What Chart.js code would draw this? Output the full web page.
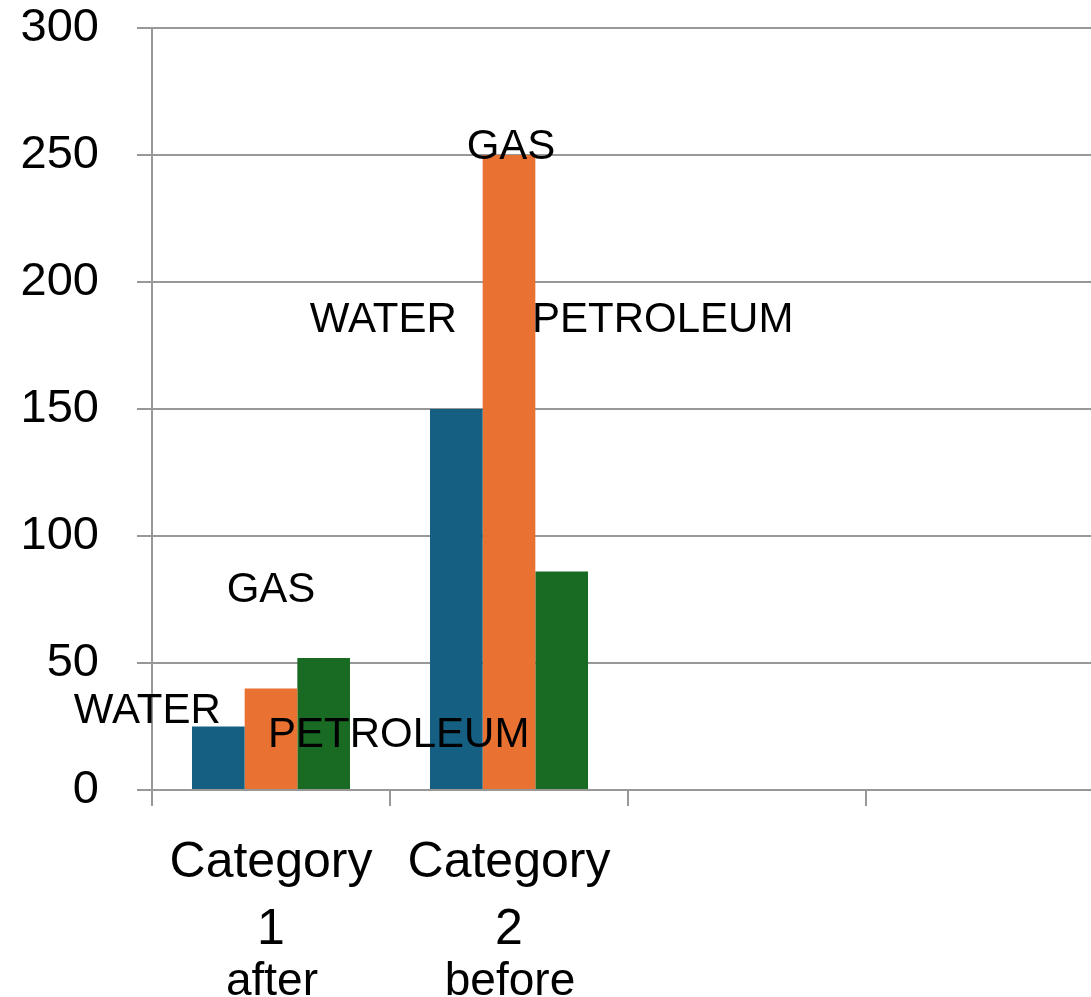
<!DOCTYPE html>
<html>
<head>
<meta charset="utf-8">
<script src="https://cdn.jsdelivr.net/npm/chart.js@4/dist/chart.umd.min.js"></script>
<style>
  html, body { margin: 0; padding: 0; background: #ffffff; overflow: hidden; }
  #wrap { width: 1091px; height: 997px; overflow: hidden; }
  canvas { display: block; }
</style>
</head>
<body>
<div id="wrap"><canvas id="chart" width="1120" height="997"></canvas></div>
<script>
// Categories along the x axis (two empty slots keep the plot width)
const categories = ['Category 1', 'Category 2', '', ''];
const subLabels = ['after', 'before', '', ''];

// Series
const seriesNames = ['WATER', 'GAS', 'PETROLEUM'];
const waterValues = [25, 150, null, null];
const gasValues = [40, 250, null, null];
const petroleumValues = [52, 86, null, null];

// Value axis
const yMin = 0;
const yMax = 300;
const yStep = 50;

const seriesColors = ['#156082', '#E97132', '#196B24'];

// Where each series name sits, relative to the top-centre of its bar [dx, dy]
const labelOffsets = {
  WATER:     [[-71, -19], [-73, -92]],
  GAS:       [[0, -101], [2, -11]],
  PETROLEUM: [[75, 74], [101, -255]]
};

const FONT = '"Liberation Sans", Arial, sans-serif';
const GRID = '#989898';

// Draws the series name near each bar
const seriesNamePlugin = {
  id: 'seriesNames',
  afterDatasetsDraw(chart) {
    const ctx = chart.ctx;
    ctx.save();
    ctx.font = '42px ' + FONT;
    ctx.fillStyle = '#000000';
    ctx.textAlign = 'center';
    ctx.textBaseline = 'alphabetic';
    chart.data.datasets.forEach((ds, di) => {
      const meta = chart.getDatasetMeta(di);
      const offs = labelOffsets[ds.label] || [];
      meta.data.forEach((bar, i) => {
        if (ds.data[i] == null || !offs[i]) return;
        const [dx, dy] = offs[i];
        // dy locates the middle of the capitals; shift to the baseline
        ctx.fillText(ds.label, bar.x + dx, bar.y + dy + 15);
      });
    });
    ctx.restore();
  }
};

// Second-level category text under the tick labels
const subLabelPlugin = {
  id: 'subLabels',
  afterDraw(chart) {
    const ctx = chart.ctx;
    const xs = chart.scales.x;
    ctx.save();
    ctx.font = '46px ' + FONT;
    ctx.fillStyle = '#000000';
    ctx.textAlign = 'center';
    ctx.textBaseline = 'alphabetic';
    subLabels.forEach((t, i) => {
      if (!t) return;
      ctx.fillText(t, xs.getPixelForValue(i) + 1, chart.chartArea.bottom + 205);
    });
    ctx.restore();
  }
};

new Chart(document.getElementById('chart'), {
  type: 'bar',
  data: {
    labels: categories.map(c => c ? c.split(' ') : ''),
    datasets: [
      { label: seriesNames[0], data: waterValues, backgroundColor: seriesColors[0] },
      { label: seriesNames[1], data: gasValues, backgroundColor: seriesColors[1] },
      { label: seriesNames[2], data: petroleumValues, backgroundColor: seriesColors[2] }
    ]
  },
  options: {
    responsive: false,
    animation: false,
    devicePixelRatio: 1,
    layout: { padding: { top: 28, right: 16, left: 0, bottom: 0 } },
    datasets: {
      bar: { categoryPercentage: 0.664, barPercentage: 1.0, borderWidth: 0 }
    },
    plugins: {
      legend: { display: false },
      tooltip: { enabled: false }
    },
    scales: {
      x: {
        grid: {
          display: true,
          drawOnChartArea: false,
          drawTicks: true,
          tickLength: 16,
          color: GRID,
          lineWidth: 2
        },
        border: { display: false },
        ticks: {
          color: '#000000',
          font: { family: FONT, size: 50, lineHeight: 1.34 },
          padding: 24,
          maxRotation: 0,
          autoSkip: false
        },
        afterFit(scale) {
          scale.height = 207;
          scale.paddingLeft = 0;
          scale.paddingRight = 0;
        }
      },
      y: {
        min: yMin,
        max: yMax,
        grid: {
          color: GRID,
          lineWidth: 2,
          drawTicks: true,
          tickLength: 15
        },
        border: { display: true, color: GRID, width: 2 },
        ticks: {
          stepSize: yStep,
          color: '#000000',
          font: { family: FONT, size: 47 },
          padding: 38
        },
        afterFit(scale) {
          scale.width = 152;
          scale.paddingTop = 0;
          scale.paddingBottom = 0;
        }
      }
    }
  },
  plugins: [seriesNamePlugin, subLabelPlugin]
});
</script>
</body>
</html>
